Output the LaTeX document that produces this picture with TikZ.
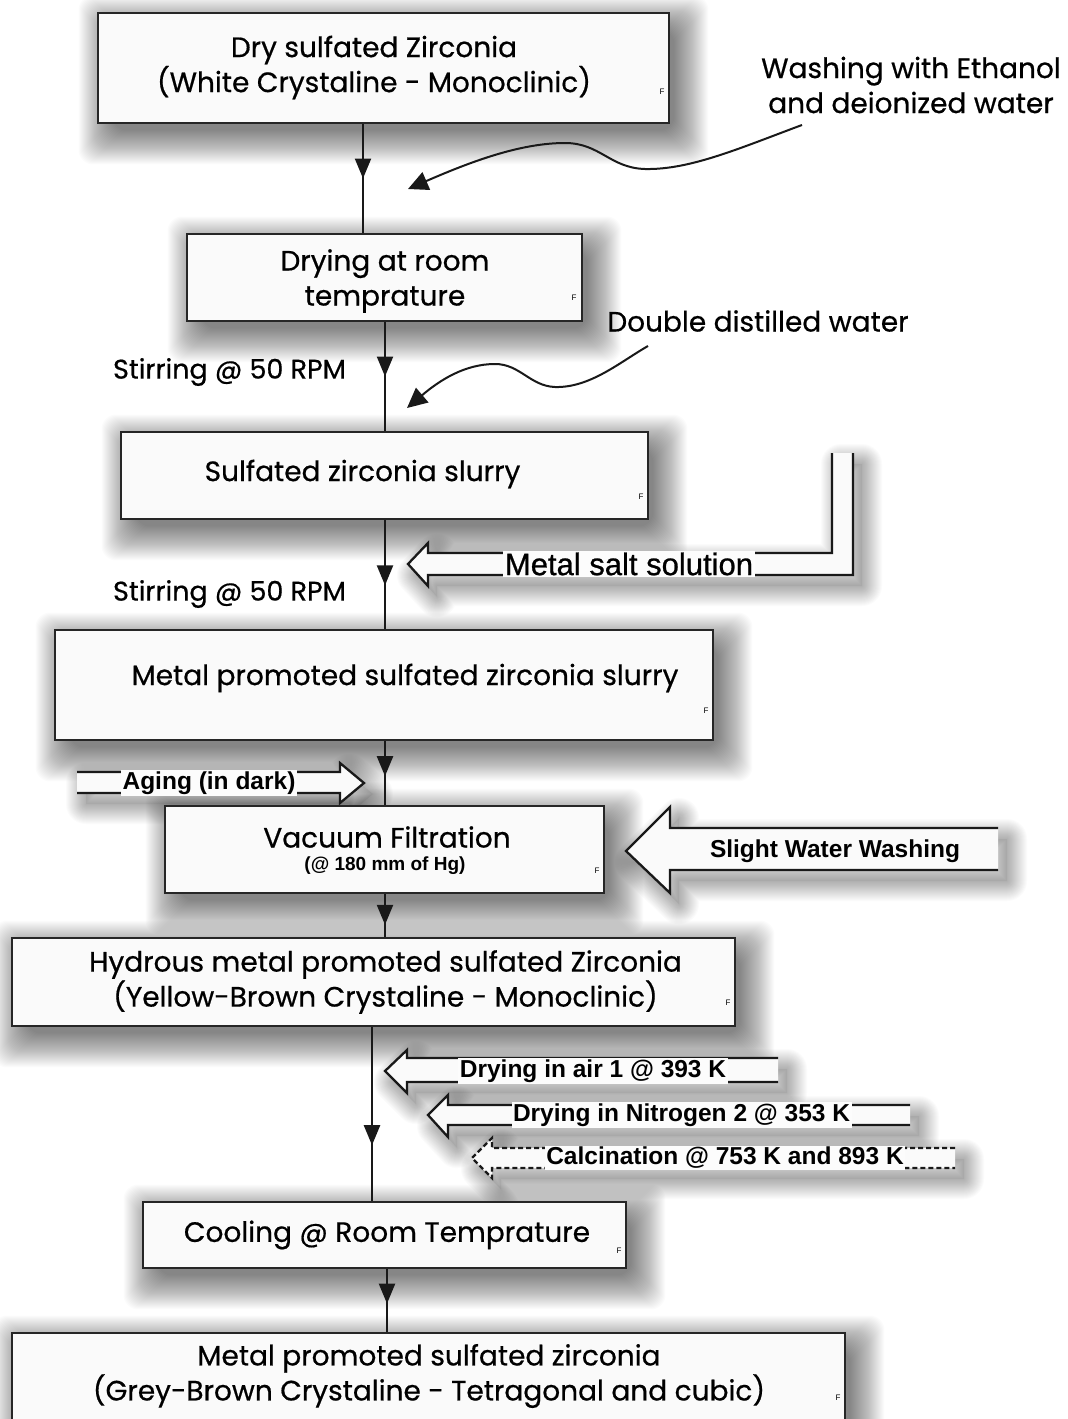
\documentclass[tikz,border=0pt]{standalone}
\usepackage{fontspec}
\setmainfont{Poppins}[FakeBold=0.6]
\newfontfamily\arialf{Liberation Sans}
\newfontfamily\arialm{Liberation Sans}[FakeBold=0.8]
\usetikzlibrary{arrows.meta,decorations.markings,calc}
\pgfdeclarelayer{bg}
\pgfsetlayers{bg,main}
\tikzset{
  box/.style={draw=black!85, line width=2.6pt, fill=black!2, inner sep=0pt, anchor=center},
  btxt/.style={align=center, inner sep=0pt, font=\fontsize{28}{35}\selectfont},
  ltxt/.style={align=center, inner sep=0pt, font=\fontsize{28}{35}\selectfont},
  fmark/.style={inner sep=0pt, font=\arialf\fontsize{8}{8}\selectfont},
  conn/.style={line width=2.3pt, draw=black!90, postaction={decorate},
    decoration={markings, mark=at position #1 with {\arrow{Triangle[length=20pt,width=16pt]}}}},
  conn/.default=0.5,
  curvy/.style={line width=2pt, draw=black!90, -{Triangle[length=20pt,width=19pt]}},
  barrow/.style={draw=black!90, line width=2.3pt, line join=miter},
  bfill/.style={fill=black!2},
  nlab/.style={fill=black!1, inner sep=1.5pt, font=\arialf\bfseries\fontsize{24.5}{26}\selectfont},
  mlab/.style={fill=black!1, inner sep=1.5pt, font=\arialm\fontsize{31}{32}\selectfont},
}
\newcommand\boxshadow[1]{%
  \foreach \r in {-6,...,28}{%
    \fill[black,opacity=0.016,rounded corners=14pt] ([shift={(10-\r,12-\r)}]#1.north west) rectangle ([shift={(10+\r,12+\r)}]#1.south east);}}
\newcommand\arrowshadow[1]{%
  \fill[black,opacity=0.05,shift={(9,11)}] #1 -- cycle;
  \foreach \w in {2,4,...,40}{%
    \draw[black,opacity=0.014,line width=\w pt,line join=round,shift={(9,11)}] #1 -- cycle;}}
\begin{document}
\begin{tikzpicture}[x=1pt,y=-1pt]
\useasboundingbox (0,0) rectangle (1068,1419);
\begin{pgfonlayer}{bg}
\fill[white] (0,0) rectangle (1068,1419);
\end{pgfonlayer}

% boxes
\node[box, minimum width=571pt, minimum height=110pt] (b1) at (383.5,68) {};
\node[box, minimum width=395pt, minimum height=87pt] (b2) at (384.5,277.5) {};
\node[box, minimum width=527pt, minimum height=87pt] (b3) at (384.5,475.5) {};
\node[box, minimum width=658pt, minimum height=110pt] (b4) at (384,685) {};
\node[box, minimum width=439pt, minimum height=87pt] (b5) at (384.5,849.5) {};
\node[box, minimum width=723pt, minimum height=88pt] (b6) at (373.5,982) {};
\node[box, minimum width=483pt, minimum height=66pt] (b7) at (384.5,1235) {};
\node[box, minimum width=833pt, minimum height=110pt] (b8) at (428.5,1388) {};

% box texts
\node[btxt] (t1) at (374,67.5) {Dry sulfated Zirconia\\(White Crystaline - Monoclinic)};
\node[btxt] (t2) at (385,281) {Drying at room\\temprature};
\node[btxt] (t3) at (362.5,474) {Sulfated zirconia slurry};
\node[btxt] (t4) at (405,678) {Metal promoted sulfated zirconia slurry};
\node[btxt] (t5) at (387,837) {Vacuum Filtration};
\node[inner sep=0pt, font=\arialf\bfseries\fontsize{19}{20}\selectfont] (t5b) at (385,866) {(@ 180 mm of Hg)};
\node[btxt] (t6) at (385.5,982) {Hydrous metal promoted sulfated Zirconia\\(Yellow-Brown Crystaline - Monoclinic)};
\node[btxt] (t7) at (387,1235) {Cooling @ Room Temprature};
\node[btxt] (t8) at (429,1376) {Metal promoted sulfated zirconia\\(Grey-Brown Crystaline -  Tetragonal and cubic)};

% F marks
\node[fmark] (f1) at (662,92) {F};
\node[fmark] (f2) at (574,298) {F};
\node[fmark] (f3) at (641,497) {F};
\node[fmark] (f4) at (706,711) {F};
\node[fmark] (f5) at (597,871) {F};
\node[fmark] (f6) at (728,1003) {F};
\node[fmark] (f7) at (619,1251) {F};
\node[fmark] (f8) at (838,1398) {F};

% side labels
\node[ltxt] (wash) at (911,85) {Washing with Ethanol\\and deionized water};
\node[ltxt] (ddw) at (758,321) {Double distilled water};
\node[ltxt, font=\fontsize{27}{35}\selectfont] (st1) at (229.5,372) {Stirring @ 50 RPM};
\node[ltxt, font=\fontsize{27}{35}\selectfont] (st2) at (229.5,594) {Stirring @ 50 RPM};

% shadows
\begin{pgfonlayer}{bg}
  \boxshadow{b1}\boxshadow{b2}\boxshadow{b3}\boxshadow{b4}
  \boxshadow{b5}\boxshadow{b6}\boxshadow{b7}\boxshadow{b8}
  \arrowshadow{(853,453) -- (853,575) -- (428,575) -- (428,586) -- (408,564) -- (428,543) -- (428,553) -- (832,553) -- (832,453)}
  \arrowshadow{(77,772) -- (340,772) -- (340,763) -- (364,783) -- (340,803) -- (340,793) -- (77,793)}
  \arrowshadow{(998,828) -- (670,828) -- (670,807) -- (626,851) -- (670,893) -- (670,870) -- (998,870)}
  \arrowshadow{(778,1058) -- (407,1058) -- (407,1050) -- (385,1071) -- (407,1093) -- (407,1082) -- (778,1082)}
  \arrowshadow{(910,1105) -- (448,1105) -- (448,1095) -- (428,1115) -- (448,1137) -- (448,1125) -- (910,1125)}
  \arrowshadow{(955,1148) -- (492,1148) -- (492,1138) -- (472,1158) -- (492,1178) -- (492,1168) -- (955,1168)}
\end{pgfonlayer}

% connector x positions
\coordinate (x1) at (363,0);
\coordinate (x2) at (385,0);
\coordinate (x6) at (372,0);
\coordinate (x7) at (387,0);
\draw[conn=0.5] (b1.south -| x1) -- (b2.north -| x1);
\draw[conn=0.5] (b2.south -| x2) -- (b3.north -| x2);
\draw[conn=0.6] (b3.south -| x2) -- (b4.north -| x2);
\draw[conn=0.55] (b4.south -| x2) -- (b5.north -| x2);
\draw[conn=0.72] (b5.south -| x2) -- (b6.north -| x2);
\draw[conn=0.68] (b6.south -| x6) -- (b7.north -| x6);
\draw[conn=0.55] (b7.south -| x7) -- (b8.north -| x7);

% curvy arrows
\coordinate (w0) at (802,125);
\coordinate (w1) at (408,189);
\draw[curvy] (w0) .. controls (740,148) and (690,170) .. (645,169) .. controls (610,168) and (600,143) .. (565,143) .. controls (520,143) and (470,162) .. (w1);
\coordinate (d0) at (648,346);
\coordinate (d1) at (407,408);
\draw[curvy] (d0) .. controls (620,362) and (590,388) .. (555,387) .. controls (530,386) and (520,364) .. (495,364) .. controls (465,364) and (440,380) .. (d1);

% block arrows
\fill[bfill] (853,453) -- (853,575) -- (428,575) -- (428,586) -- (408,564) -- (428,543) -- (428,553) -- (832,553) -- (832,453) -- cycle;
\draw[barrow] (853,453) -- (853,575) -- (428,575) -- (428,586) -- (408,564) -- (428,543) -- (428,553) -- (832,553) -- (832,453);
\node[mlab] (msalt) at (629,564) {Metal salt solution};

\fill[bfill] (77,772) -- (340,772) -- (340,763) -- (364,783) -- (340,803) -- (340,793) -- (77,793) -- cycle;
\draw[barrow] (77,772) -- (340,772) -- (340,763) -- (364,783) -- (340,803) -- (340,793) -- (77,793);
\node[nlab] (aging) at (209,783) {Aging (in dark)};

\fill[bfill] (998,828) -- (670,828) -- (670,807) -- (626,851) -- (670,893) -- (670,870) -- (998,870) -- cycle;
\draw[barrow] (998,828) -- (670,828) -- (670,807) -- (626,851) -- (670,893) -- (670,870) -- (998,870);
\node[nlab, fill=none] (sww) at (835,851) {Slight Water Washing};

\fill[bfill] (778,1058) -- (407,1058) -- (407,1050) -- (385,1071) -- (407,1093) -- (407,1082) -- (778,1082) -- cycle;
\draw[barrow] (778,1058) -- (407,1058) -- (407,1050) -- (385,1071) -- (407,1093) -- (407,1082) -- (778,1082);
\node[nlab] (dair) at (593,1071) {Drying in air 1 @ 393 K};

\fill[bfill] (910,1105) -- (448,1105) -- (448,1095) -- (428,1115) -- (448,1137) -- (448,1125) -- (910,1125) -- cycle;
\draw[barrow] (910,1105) -- (448,1105) -- (448,1095) -- (428,1115) -- (448,1137) -- (448,1125) -- (910,1125);
\node[nlab] (dn2) at (681.5,1115) {Drying in Nitrogen 2 @ 353 K};

\fill[bfill] (955,1148) -- (492,1148) -- (492,1138) -- (472,1158) -- (492,1178) -- (492,1168) -- (955,1168) -- cycle;
\draw[barrow, dash pattern=on 5pt off 3pt] (955,1148) -- (492,1148) -- (492,1138) -- (472,1158) -- (492,1178) -- (492,1168) -- (955,1168);
\node[nlab] (calc) at (725,1158) {Calcination @ 753 K and 893 K};
\end{tikzpicture}
\end{document}
